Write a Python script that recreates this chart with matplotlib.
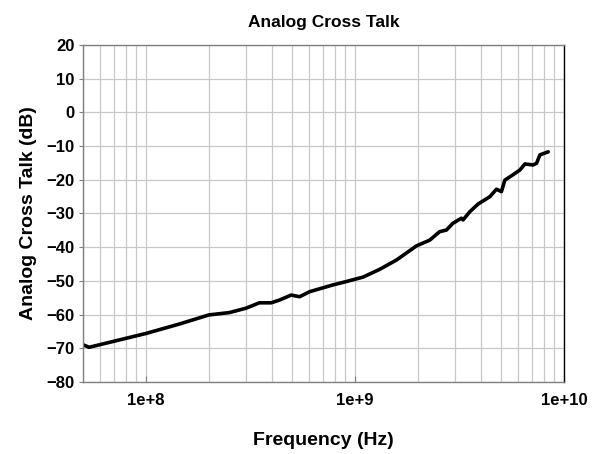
import matplotlib
matplotlib.use("Agg")
import matplotlib.pyplot as plt
from matplotlib.ticker import FixedLocator, LogLocator, FuncFormatter, NullFormatter
import numpy as np

plt.rcParams['font.family'] = ['Liberation Sans', 'DejaVu Sans']

# frequency (Hz) and cross talk (dB)
freq_hz = [4.93e7, 5.35e7, 1.0e8, 1.445e8, 2.0e8, 2.51e8, 3.01e8, 3.49e8, 3.97e8,
           4.35e8, 4.95e8, 5.43e8, 6.07e8, 7.84e8, 9.08e8, 1.09e9, 1.31e9, 1.58e9,
           1.97e9, 2.28e9, 2.54e9, 2.74e9, 2.94e9, 3.23e9, 3.29e9, 3.54e9, 3.88e9,
           4.42e9, 4.75e9, 5.02e9, 5.21e9, 5.61e9, 6.15e9, 6.50e9, 7.12e9, 7.39e9,
           7.67e9, 8.40e9]
crosstalk_db = [-68.8, -69.7, -65.6, -62.8, -60.1, -59.4, -58.1, -56.5, -56.5,
                -55.7, -54.2, -54.7, -53.2, -51.2, -50.2, -48.9, -46.6, -43.8,
                -39.6, -37.9, -35.4, -34.9, -32.9, -31.4, -31.9, -29.5, -27.2,
                -25.0, -22.8, -23.5, -20.1, -18.8, -17.1, -15.3, -15.6, -15.1,
                -12.6, -11.7]

y_ticks = list(range(-80, 21, 10))
x_major = [1e8, 1e9, 1e10]

fig = plt.figure(figsize=(5.99, 4.54), dpi=100)
ax = fig.add_axes([0.1386, 0.1586, 0.8030, 0.7423])

ax.plot(freq_hz, crosstalk_db, color='black', linewidth=2.6, solid_capstyle='round',
        solid_joinstyle='round')

ax.set_xscale('log')
ax.set_xlim(5e7, 1e10)
ax.set_ylim(-80, 20)
ax.set_yticks(y_ticks)
ax.xaxis.set_major_locator(FixedLocator(x_major))
ax.xaxis.set_minor_locator(LogLocator(base=10, subs=np.arange(2, 10)))
ax.xaxis.set_minor_formatter(NullFormatter())
ax.xaxis.set_major_formatter(FuncFormatter(lambda v, p: '1e+%d' % round(np.log10(v))))

ax.grid(True, which='both', axis='x', color='#c8c8c8', linewidth=0.9)
ax.grid(True, which='major', axis='y', color='#c8c8c8', linewidth=0.9)
ax.set_axisbelow(True)

for side in ['top', 'left', 'bottom']:
    ax.spines[side].set_color('#808080')
ax.spines['right'].set_color('black')
for s in ax.spines.values():
    s.set_linewidth(1.0)

ax.tick_params(axis='y', direction='out', length=3, color='#808080',
               labelsize=12, pad=3)
ax.tick_params(axis='x', which='major', direction='in', length=4, color='#808080',
               labelsize=12, pad=8)
ax.tick_params(axis='x', which='minor', length=0)
for lbl in ax.get_xticklabels() + ax.get_yticklabels():
    lbl.set_fontweight('bold')

ax.set_title('Analog Cross Talk', fontsize=12.5, fontweight='bold', pad=13)
ax.set_xlabel('Frequency (Hz)', fontsize=14, fontweight='bold', labelpad=17)
ax.set_ylabel('Analog Cross Talk (dB)', fontsize=14, fontweight='bold', labelpad=7)

fig.savefig('out.png', dpi=100)
